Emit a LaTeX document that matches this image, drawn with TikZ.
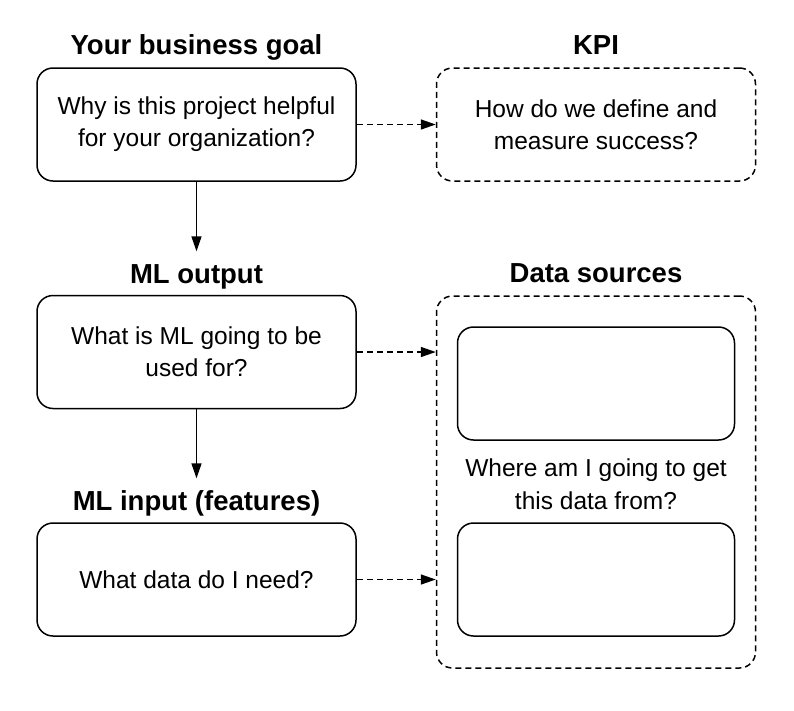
\documentclass[tikz,border=0pt]{standalone}
\usepackage{fontspec}
\setmainfont{Liberation Sans}
\usetikzlibrary{shapes, arrows.meta}

\begin{document}
\begin{tikzpicture}[x=1pt, y=-1pt,
        box/.style={draw, line width=1.5pt, rounded corners=16pt, minimum width=319pt, minimum height=113pt,
            align=center, inner sep=0pt, font=\fontsize{24.5}{32}\selectfont},
        dbox/.style={box, dash pattern=on 6pt off 4pt},
        title/.style={anchor=base, inner xsep=0pt, inner ysep=12pt, text height=20pt, text depth=6pt,
            font=\fontsize{27.5}{33}\selectfont\bfseries},
        flow/.style={line width=1.5pt, -{Triangle[length=15pt, width=10pt]}},
        dflow/.style={flow, dash pattern=on 6pt off 4pt}]
        \pgfmathsetmacro{\xleft}{196.5}
        \pgfmathsetmacro{\xright}{596}

        \useasboundingbox (0,0) rectangle (794,710);

        % left column
        \node[title] (goaltitle) at (\xleft,54.5) {Your business goal};
        \node[box] (goal) at (\xleft,124.5) {Why is this project helpful\\for your organization?};
        \node[title] (mlouttitle) at (\xleft,283.5) {ML output};
        \node[box] (mlout) at (\xleft,352) {What is ML going to be\\used for?};
        \node[title] (mlintitle) at (\xleft,510.5) {ML input (features)};
        \node[box] (mlin) at (\xleft,579.5) {What data do I need?};

        % right column
        \node[title] (kpititle) at (\xright,54.5) {KPI};
        \node[dbox] (kpi) at (\xright,124.5) {How do we define and\\measure success?};
        \node[title] (sourcestitle) at (\xright,282) {Data sources};
        \node[dbox, minimum height=372pt] (sources) at (\xright,482) {};
        \node[box, minimum width=277pt] (srca) at (\xright,383.5) {};
        \node[align=center, font=\fontsize{24.5}{33}\selectfont] (where) at (\xright,484) {Where am I going to get\\this data from?};
        \node[box, minimum width=277pt] (srcb) at (\xright,579.5) {};

        \draw[flow] (goal) -- (mlouttitle);
        \draw[flow] (mlout) -- (mlintitle);
        \draw[dflow] (goal) -- (kpi);
        \draw[dflow] (mlout.east) -- (mlout.east -| sources.west);
        \draw[dflow] (mlin.east) -- (mlin.east -| sources.west);

    \end{tikzpicture}
\end{document}
